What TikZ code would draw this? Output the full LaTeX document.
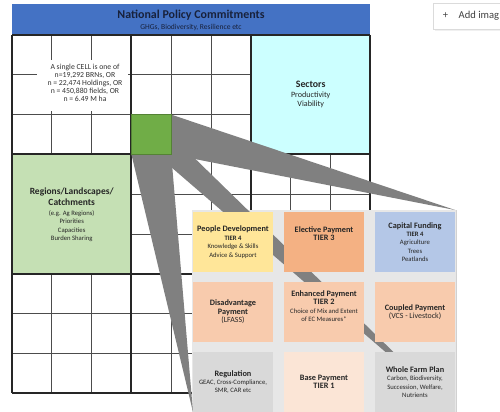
\documentclass[tikz,border=0pt]{standalone}
\usepackage{fontspec}
\setmainfont{Carlito}
\definecolor{hdrblue}{HTML}{4472C4}
\definecolor{hdrtext}{HTML}{18213B}
\definecolor{sectorcyan}{HTML}{CCFFFF}
\definecolor{regiongreen}{HTML}{C5E0B4}
\definecolor{cellgreen}{HTML}{70AD47}
\definecolor{wedgegray}{HTML}{808080}
\definecolor{panelgray}{HTML}{E7E7E7}
\definecolor{peopleyellow}{HTML}{FFE699}
\definecolor{electorange}{HTML}{F4B183}
\definecolor{capitalblue}{HTML}{B4C7E7}
\definecolor{peachpay}{HTML}{F8CBAD}
\definecolor{basepeach}{HTML}{FBE5D6}
\definecolor{regulgray}{HTML}{D9D9D9}
\newcommand{\boxhead}{\fontsize{4.7}{5.6}\selectfont\bfseries}
\newcommand{\boxsmall}{\fontsize{3.8}{4.8}\selectfont}
\begin{document}
\begin{tikzpicture}[x=0.02cm,y=-0.02cm,
	gridline/.style={draw=black!70,line width=0.5pt},
	blockline/.style={draw=black!85,line width=1.2pt},
	wedge/.style={fill=wedgegray},
	panelbox/.style={minimum width=1.6cm,minimum height=1.22cm,inner sep=0pt,align=center,text=black!85,font=\boxsmall}]
	\useasboundingbox (0,0) rectangle (500,412);
	\clip (0,0) rectangle (500,412);
	\fill[white] (0,0) rectangle (500,412);
	% header
	\fill[hdrblue] (12,4) rectangle (370.2,34);
	\node[text=hdrtext] (hdr) at (191,15) {\fontsize{6.8}{8}\selectfont\bfseries National Policy Commitments};
	\node[text=hdrtext] (hdrsub) at (191,27) {\fontsize{4.3}{5}\selectfont GHGs, Biodiversity, Resilience etc};
	% grid
	\foreach \i in {1,...,8} {
		\draw[gridline] (12+\i*39.8,35) -- (12+\i*39.8,393.2);
		\draw[gridline] (12,35+\i*39.8) -- (370.2,35+\i*39.8);
	}
	\fill[sectorcyan] (251.2,35) rectangle (370.2,154.4);
	\fill[regiongreen] (12,154.4) rectangle (131.4,273.8);
	\foreach \i in {0,...,3} {
		\draw[blockline] (12+\i*119.4,35) -- (12+\i*119.4,393.2);
		\draw[blockline] (12,35+\i*119.4) -- (370.2,35+\i*119.4);
	}
	\node[fill=white,minimum width=1.82cm,minimum height=1.02cm,inner sep=0pt] (cellbox) at (82.5,85.5) {};
	\node[align=center,inner sep=0pt,text=black!80,font=\fontsize{4.4}{4.6}\selectfont] (celltext) at (85,83) {A single CELL is one of\\ n=19,292 BRNs, OR\\ n = 22,474 Holdings, OR\\ n = 450,880 fields, OR\\ n = 6.49 M ha};
	\node[align=center,inner sep=0pt,text=black!85,font=\fontsize{4.6}{5.2}\selectfont] (sectors) at (310.7,94.7) {{\fontsize{5.6}{6}\selectfont\bfseries Sectors}\\[0.6pt] Productivity\\ Viability};
	\node[align=center,inner sep=0pt,text=black!85,font=\fontsize{3.8}{4.8}\selectfont] (regions) at (71.7,215) {{\fontsize{5.4}{6.2}\selectfont\bfseries Regions/Landscapes/}\\[1.5pt] {\fontsize{5.4}{6.2}\selectfont\bfseries Catchments}\\[0.5pt] (e.g. Ag Regions)\\ Priorities\\ Capacities\\ Burden Sharing};
	% projection of the cell
	\coordinate (cellbl) at (131.4,154.4);
	\coordinate (cellbr) at (171.2,154.4);
	\coordinate (celltr) at (171.2,114.6);
	\coordinate (midl) at (156.9,154.8);
	\coordinate (midr) at (173.1,137.2);
	\coordinate (paneltr) at (455,210);
	\coordinate (panelbl) at (193,412);
	\coordinate (panelbr) at (455,412);
	\fill[panelgray] (192,210) rectangle (456,414);
	\draw[black!18,line width=0.4pt] (456,210) -- (456,414);
	\fill[wedge] (celltr) -- (cellbr) -- (paneltr) -- cycle;
	\fill[wedge] (cellbl) -- (cellbr) -- (panelbl) -- cycle;
	\fill[wedge] (midl) -- (midr) -- (panelbr) -- cycle;
	\filldraw[fill=cellgreen,draw=cellgreen!75!black,line width=0.4pt] (cellbl) rectangle (celltr);
	% panel of payments
	\node[panelbox,fill=peopleyellow] (people) at (233,242) {{\boxhead People Development}\\ \bfseries TIER 4\\ Knowledge \& Skills\\ Advice \& Support};
	\node[panelbox,fill=electorange] (elective) at (324,242) {{\boxhead Elective Payment}\\ {\boxhead TIER 3}\\[5pt]};
	\node[panelbox,fill=capitalblue] (capital) at (415,242) {{\boxhead Capital Funding}\\ \bfseries TIER 4\\ Agriculture\\ Trees\\ Peatlands};
	\node[panelbox,fill=peachpay] (disadv) at (233,312) {{\boxhead Disadvantage}\\ {\boxhead Payment}\\ \fontsize{4.5}{5.4}\selectfont (LFASS)};
	\node[panelbox,fill=peachpay] (enhanced) at (324,312) {{\boxhead Enhanced Payment}\\ {\boxhead TIER 2}\\ Choice of Mix and Extent\\ of EC Measures*\\[2pt]};
	\node[panelbox,fill=peachpay] (coupled) at (415,312) {{\boxhead Coupled Payment}\\ \fontsize{4.5}{5.4}\selectfont (VCS - Livestock)};
	\node[panelbox,fill=regulgray] (regulation) at (233,382) {{\boxhead Regulation}\\ GEAC, Cross-Compliance,\\ SMR, CAR etc};
	\node[panelbox,fill=basepeach] (base) at (324,382) {{\boxhead Base Payment}\\ {\boxhead TIER 1}};
	\node[panelbox,fill=regulgray] (wholefarm) at (415,382) {{\boxhead Whole Farm Plan}\\ Carbon, Biodiversity,\\ Succession, Welfare,\\ Nutrients};
	% add image button
	\fill[black!6] (435,5) rectangle (512,31);
	\node[draw=black!14,fill=white,minimum width=1.56cm,minimum height=0.52cm,anchor=north west,inner sep=0pt] (addbtn) at (433,3) {};
	\node[anchor=east,inner sep=0pt,text=black!75] (addtxt) at (499.5,16) {\fontsize{6}{7}\selectfont +\hspace{6pt}Add imag};
\end{tikzpicture}
\end{document}
